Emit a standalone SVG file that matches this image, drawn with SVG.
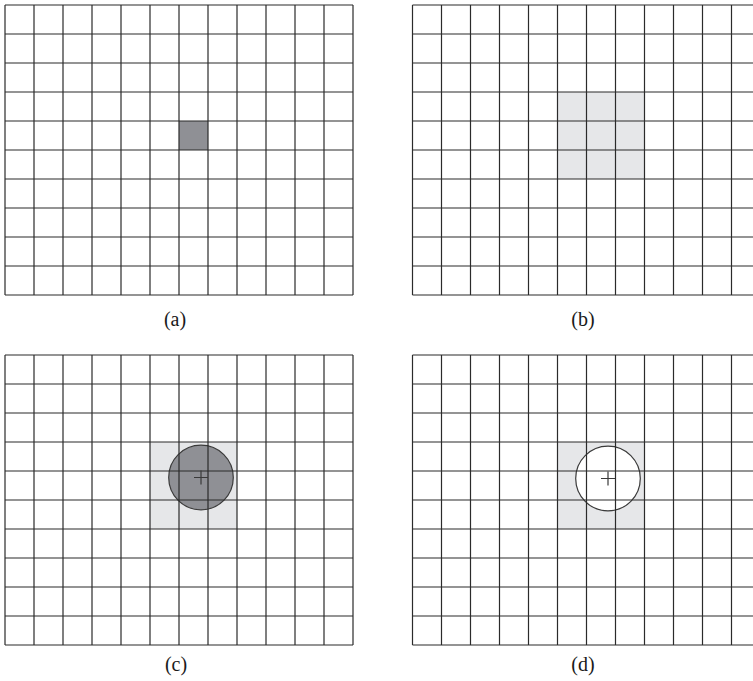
<svg xmlns="http://www.w3.org/2000/svg" xmlns:xlink="http://www.w3.org/1999/xlink" width="753" height="681" viewBox="0 0 753 681">
<style>
.gl{stroke:#2b2b2b;stroke-width:1.2;fill:none}
.light{fill:#e6e7e9}
.dark{fill:#8f9095}
.circ{stroke:#3a3a3a;stroke-width:1.2}
.plus{stroke:#3a3a3a;stroke-width:1.2;fill:none}
.lbl{font-family:"Liberation Serif","Times New Roman",serif;font-size:20px;fill:#1a1a1a;text-anchor:middle}
</style>
<defs>
<g id="grid">
<path class="gl" d="M0,0H348M0,29H348M0,58H348M0,87H348M0,116H348M0,145H348M0,174H348M0,203H348M0,232H348M0,261H348M0,290H348
M0,0V290M29,0V290M58,0V290M87,0V290M116,0V290M145,0V290M174,0V290M203,0V290M232,0V290M261,0V290M290,0V290M319,0V290M348,0V290"/>
</g>
</defs>
<rect width="753" height="681" fill="#ffffff"/>

<g id="panel-a" transform="translate(5,5)">
<rect class="dark" x="174" y="116" width="29" height="29"/>
<use xlink:href="#grid"/>
</g>
<text class="lbl" x="175" y="326">(a)</text>

<g id="panel-b" transform="translate(412.5,5)">
<rect class="light" x="145" y="87" width="87" height="87"/>
<use xlink:href="#grid"/>
</g>
<text class="lbl" x="583" y="326">(b)</text>

<g id="panel-c" transform="translate(5,355)">
<rect class="light" x="145" y="87" width="87" height="87"/>
<circle class="dark circ" cx="196" cy="122.5" r="32.3"/>
<use xlink:href="#grid"/>
<path class="plus" d="M189,122.5H203M196,115.5V129.5"/>
</g>
<text class="lbl" x="176" y="671">(c)</text>

<g id="panel-d" transform="translate(412.5,355)">
<rect class="light" x="145" y="87" width="87" height="87"/>
<circle class="circ" fill="#ffffff" cx="195.5" cy="123.5" r="32.3"/>
<use xlink:href="#grid"/>
<path class="plus" d="M188.5,123.5H202.5M195.5,116.5V130.5"/>
</g>
<text class="lbl" x="583" y="671">(d)</text>
</svg>
